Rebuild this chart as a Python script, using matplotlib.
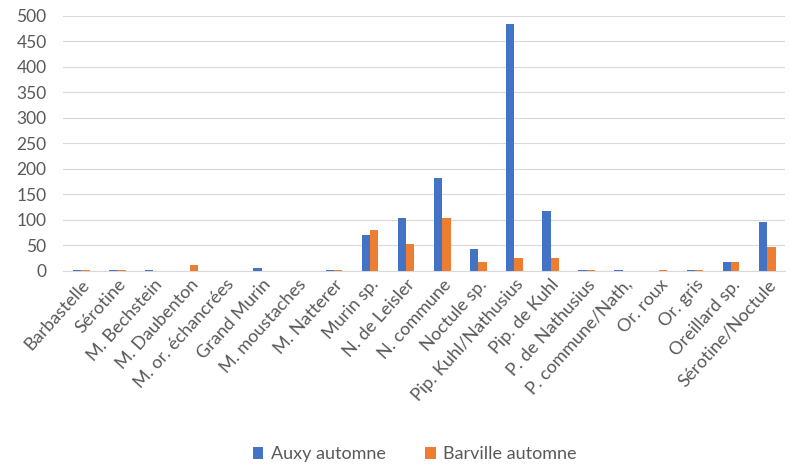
import numpy as np
import matplotlib
matplotlib.use("Agg")
import matplotlib.pyplot as plt

categories = ["Barbastelle", "Sérotine", "M. Bechstein", "M. Daubenton",
              "M. or. échancrées", "Grand Murin", "M. moustaches", "M. Natterer",
              "Murin sp.", "N. de Leisler", "N. commune", "Noctule sp.",
              "Pip. Kuhl/Nathusius", "Pip. de Kuhl", "P. de Nathusius",
              "P. commune/Nath,", "Or. roux", "Or. gris", "Oreillard sp.",
              "Sérotine/Noctule"]
auxy = [2, 2, 1, 0, 0, 5, 0, 2, 70, 103, 182, 42, 484, 118, 2, 2, 0, 2, 17, 96]
barville = [2, 2, 0, 12, 0, 0, 0, 2, 80, 53, 103, 18, 25, 25, 2, 0, 2, 2, 17, 46]
yticks = list(range(0, 501, 50))

plt.rcParams['font.family'] = ['Lato', 'DejaVu Sans']
text_color = "#595959"

fig = plt.figure(figsize=(7.9, 4.67), dpi=100)
ax = fig.add_axes([0.08, 0.42, 0.914, 0.546])

x = np.arange(len(categories))
w = 0.23
ax.bar(x - w / 2, auxy, w, color="#4472C4", label="Auxy automne", zorder=3)
ax.bar(x + w / 2, barville, w, color="#ED7D31", label="Barville automne", zorder=3)

ax.set_xlim(-0.5, len(categories) - 0.5)
ax.set_ylim(0, 500)
ax.set_yticks(yticks)
ax.yaxis.grid(True, color="#D9D9D9", linewidth=0.8, zorder=0)
ax.set_axisbelow(True)
for s in ["top", "right", "left"]:
    ax.spines[s].set_visible(False)
ax.spines["bottom"].set_color("#D9D9D9")
ax.tick_params(axis="both", length=0, colors=text_color, labelsize=12.5)
ax.tick_params(axis="y", pad=12)
ax.tick_params(axis="x", pad=4)
ax.set_xticks(x)
ax.set_xticklabels(categories, rotation=48, ha="right", rotation_mode="anchor",
                   fontsize=13, color=text_color)

fig.legend(loc="lower center", bbox_to_anchor=(0.525, -0.025), ncol=2, frameon=False,
           fontsize=13, handlelength=0.6, handleheight=0.6, columnspacing=2.2,
           handletextpad=0.4, labelcolor=text_color)

fig.savefig("out.png", dpi=100)
